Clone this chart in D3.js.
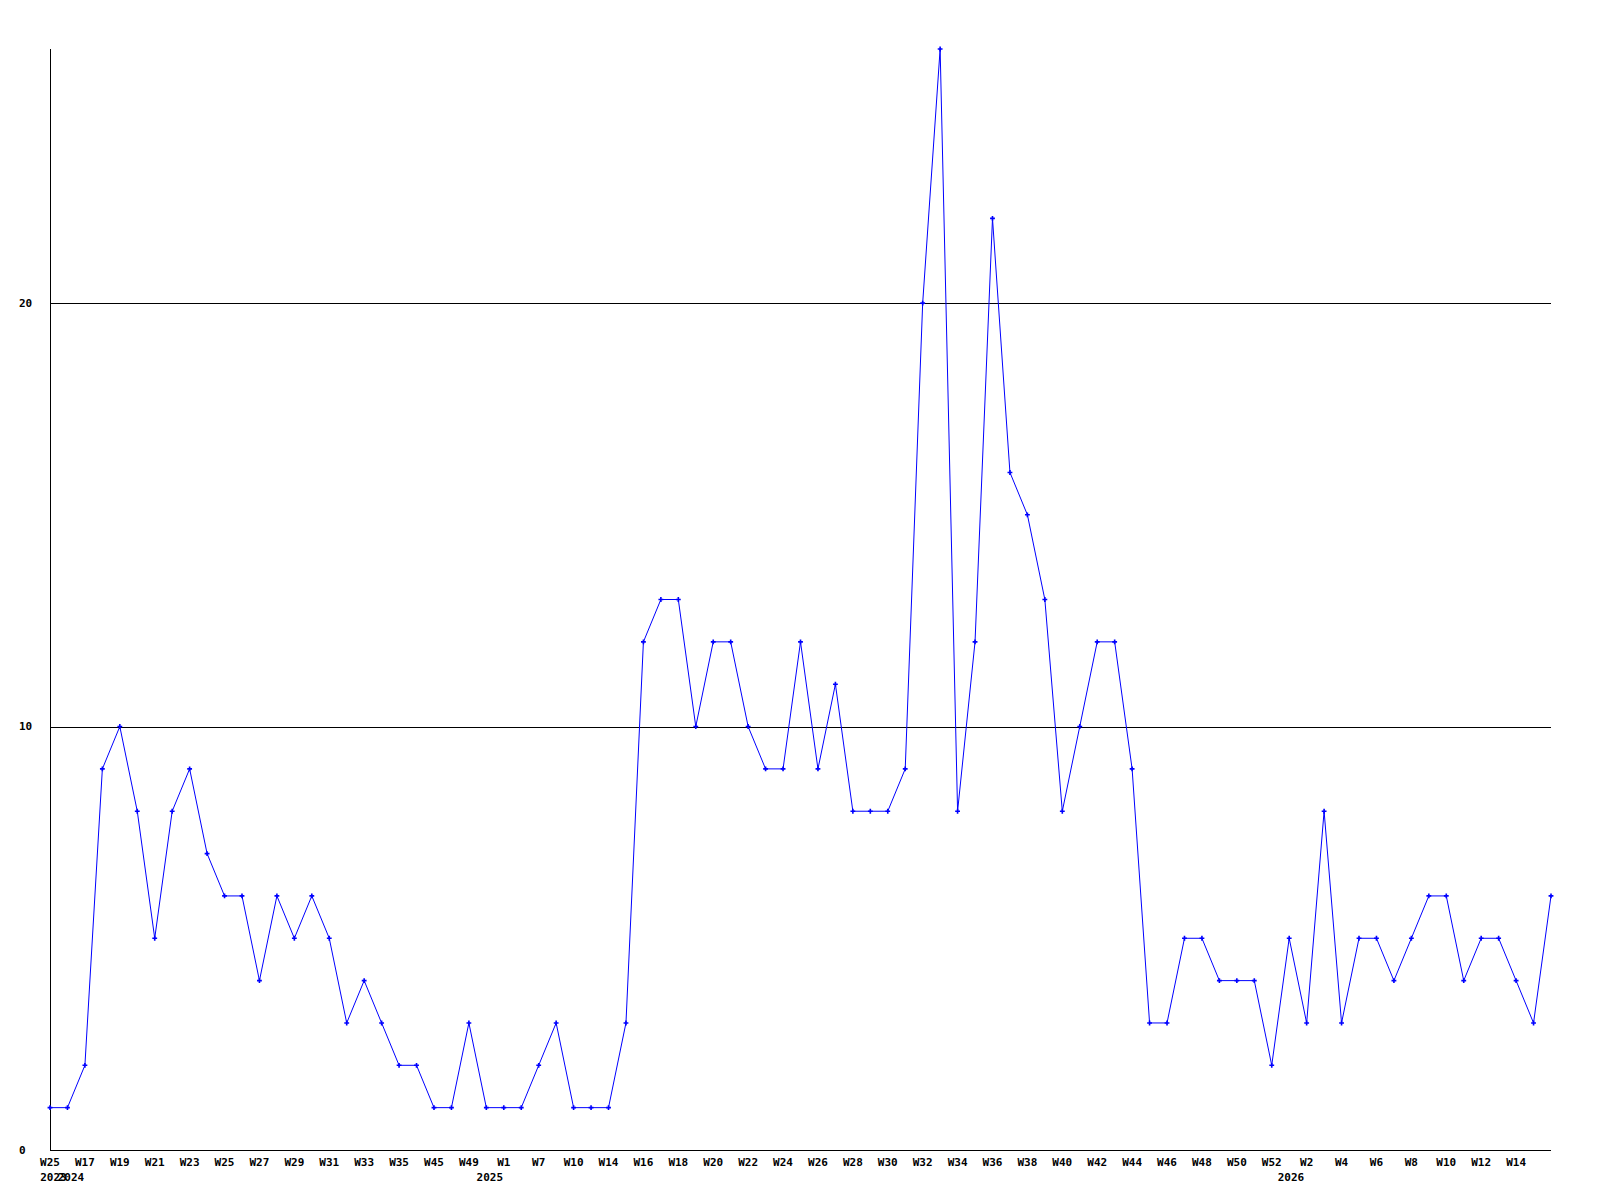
<html lang="en">
<head>
<title>Weekly count</title>
<script src="https://d3js.org/d3.v7.min.js"></script>
<style>
  body { margin: 0; background: #fff; }
  text { font-family: "DejaVu Sans Mono", monospace; font-size: 11px; font-weight: bold; fill: #000; }
</style>
</head>
<body>
<script>
// values per week, in order
var values = [1, 1, 2, 9, 10, 8, 5, 8, 9, 7, 6, 6, 4, 6, 5, 6, 5, 3, 4, 3,
              2, 2, 1, 1, 3, 1, 1, 1, 2, 3, 1, 1, 1, 3, 12, 13, 13, 10, 12, 12,
              10, 9, 9, 12, 9, 11, 8, 8, 8, 9, 20, 26, 8, 12, 22, 16, 15, 13, 8, 10,
              12, 12, 9, 3, 3, 5, 5, 4, 4, 4, 2, 5, 3, 8, 3, 5, 5, 4, 5, 6,
              6, 4, 5, 5, 4, 3, 6];

// labels shown on every second point
var weekLabels = ["W25", "W17", "W19", "W21", "W23", "W25", "W27", "W29", "W31", "W33", "W35",
                  "W45", "W49", "W1", "W7", "W10", "W14", "W16", "W18", "W20", "W22", "W24",
                  "W26", "W28", "W30", "W32", "W34", "W36", "W38", "W40", "W42", "W44", "W46",
                  "W48", "W50", "W52", "W2", "W4", "W6", "W8", "W10", "W12", "W14"];

var years = ["2023", "2024", "2025", "2026"];
var yearAt = [0.2, 1.2, 25.2, 71.1];

var yTicks = [0, 10, 20];

var width = 1600, height = 1200;

var svg = d3.select("body").append("svg")
    .attr("width", width)
    .attr("height", height);

var x = d3.scaleLinear()
    .domain([0, values.length - 1])
    .range([50, 1551]);

var y = d3.scaleLinear()
    .domain([0, 26])
    .range([1150, 49]);

// grid lines
svg.append("g")
    .selectAll("line")
    .data(yTicks.filter(function(d) { return d > 0; }))
    .enter().append("line")
    .attr("x1", x(0)).attr("x2", x(values.length - 1))
    .attr("y1", function(d) { return Math.round(y(d)) + 0.5; })
    .attr("y2", function(d) { return Math.round(y(d)) + 0.5; })
    .attr("stroke", "#000")
    .attr("shape-rendering", "crispEdges");

// axes
svg.append("line")
    .attr("x1", x(0) + 0.5).attr("x2", x(0) + 0.5)
    .attr("y1", y.range()[1]).attr("y2", y(0))
    .attr("stroke", "#000").attr("shape-rendering", "crispEdges");
svg.append("line")
    .attr("x1", x(0)).attr("x2", x(values.length - 1))
    .attr("y1", y(0) + 0.5).attr("y2", y(0) + 0.5)
    .attr("stroke", "#000").attr("shape-rendering", "crispEdges");

// y labels
svg.append("g")
    .selectAll("text")
    .data(yTicks)
    .enter().append("text")
    .attr("x", 19)
    .attr("y", function(d) { return y(d); })
    .attr("dy", "0.35em")
    .text(function(d) { return d; });

// x labels
svg.append("g")
    .selectAll("text")
    .data(weekLabels)
    .enter().append("text")
    .attr("x", function(d, i) { return x(i * 2); })
    .attr("y", 1166)
    .attr("text-anchor", "middle")
    .text(function(d) { return d; });

svg.append("g")
    .selectAll("text")
    .data(years)
    .enter().append("text")
    .attr("x", function(d, i) { return x(yearAt[i]); })
    .attr("y", 1181)
    .attr("text-anchor", "middle")
    .text(function(d) { return d; });

// the line
var line = d3.line()
    .x(function(d, i) { return x(i); })
    .y(function(d) { return y(d); });

svg.append("path")
    .datum(values)
    .attr("d", line)
    .attr("fill", "none")
    .attr("stroke", "#0000ff")
    .attr("stroke-width", 1);

svg.append("g")
    .selectAll("path")
    .data(values)
    .enter().append("path")
    .attr("d", d3.symbol().type(d3.symbolCross).size(13))
    .attr("transform", function(d, i) { return "translate(" + x(i) + "," + y(d) + ")"; })
    .attr("fill", "#0000ff");
</script>
</body>
</html>
